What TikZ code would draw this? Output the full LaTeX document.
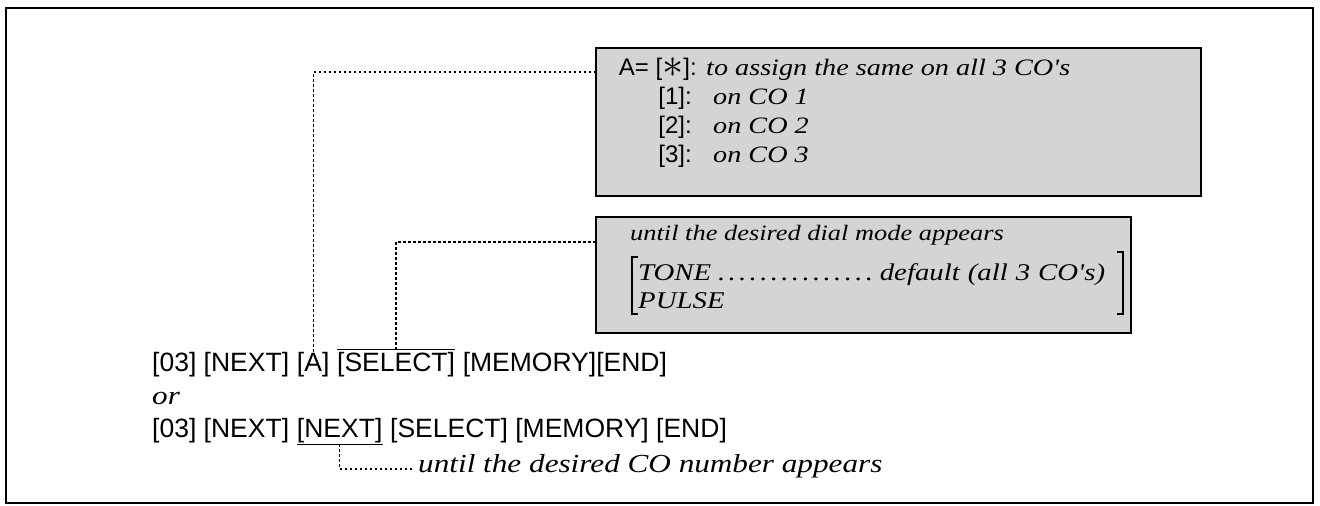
\documentclass[tikz,border=0pt]{standalone}
\usepackage{fontspec}
\setmainfont{Liberation Sans}
\newfontfamily\itf[FakeStretch=1.2]{Liberation Serif}
\usetikzlibrary{calc}
\newcommand{\bigast}{\raisebox{-0.12em}{\scalebox{1.7}{$\ast$}}}
\tikzset{
 rowtxt/.style={inner sep=0, anchor=base west, font=\fontsize{26.5}{30}\selectfont},
 boxtxt/.style={inner sep=0, anchor=base west, font=\fontsize{24}{28}\selectfont},
 boxtxtr/.style={inner sep=0, anchor=base east, font=\fontsize{24}{28}\selectfont},
 itxt/.style={inner sep=0, anchor=base west, font=\itf\itshape\fontsize{23.5}{28}\selectfont},
 notetxt/.style={inner sep=0, anchor=base west, font=\itf\itshape\fontsize{26}{30}\selectfont},
 dotline/.style={line width=1.3pt, dash pattern=on 2.4pt off 2.6pt},
 graybox/.style={draw, line width=1.6pt, fill=black!17, inner sep=0, anchor=north west},
 brk/.style={line width=1.3pt},
}
\begin{document}
\begin{tikzpicture}[x=1pt,y=-1pt]
\useasboundingbox (0,0) rectangle (1320,506);
\draw[line width=1.3pt] (6,8) rectangle (1313,503);

% box 1
\node[graybox, minimum width=605pt, minimum height=148pt] (b1) at (595,47) {};
\node[boxtxtr] (b1k1) at (697,75) {A= [\bigast]:};
\node[itxt] (b1t1) at (706,75) {to assign the same on all 3 CO's};
\node[boxtxtr] (b1k2) at (692,104) {[1]:};
\node[itxt] (b1t2) at (713,104) {on CO 1};
\node[boxtxtr] (b1k3) at (692,133) {[2]:};
\node[itxt] (b1t3) at (713,133) {on CO 2};
\node[boxtxtr] (b1k4) at (692,162) {[3]:};
\node[itxt] (b1t4) at (713,162) {on CO 3};

% box 2
\node[graybox, minimum width=535pt, minimum height=116pt] (b2) at (595,216) {};
\node[itxt, font=\itf\itshape\fontsize{22}{26}\selectfont] (b2t1) at (630,240) {until the desired dial mode appears};
\node[itxt, font=\itf\itshape\fontsize{24}{28}\selectfont, text width=467pt] (b2t2) at (638,280) {TONE\,\dotfill\,default (all 3 CO's)};
\node[itxt, font=\itf\itshape\fontsize{24}{28}\selectfont] (b2t3) at (638,308) {PULSE};
\draw[brk] (638,257) -- (632,257) -- (632,314) -- (638,314);
\draw[brk] (1117,252) -- (1123,252) -- (1123,314) -- (1117,314);

% row 1
\node[rowtxt] (r1a) at (152,371) {[03] [NEXT]};
\node[rowtxt] (r1b) at ($(r1a.base east)+(7.4,0)$) {[A]};
\node[rowtxt] (r1c) at ($(r1b.base east)+(7.4,0)$) {[SELECT]};
\node[rowtxt] (r1d) at ($(r1c.base east)+(7.4,0)$) {[MEMORY][END]};
\draw[line width=1pt] ($(r1c.north west)+(0,-2)$) -- ($(r1c.north east)+(0,-2)$);
\coordinate (selov) at ($(r1c.north)+(0,-2)$);

\node[notetxt] (or) at (152,404) {or};

% row 2
\node[rowtxt] (r2a) at (152,437) {[03] [NEXT]};
\node[rowtxt] (r2b) at ($(r2a.base east)+(7.4,0)$) {[NEXT]};
\node[rowtxt] (r2c) at ($(r2b.base east)+(7.4,0)$) {[SELECT] [MEMORY] [END]};
\draw[line width=1pt] ($(r2b.south west)+(0,1.5)$) -- ($(r2b.south east)+(0,1.5)$);
\coordinate (nxu) at ($(r2b.south)+(0,1.5)$);

\node[notetxt] (note) at (418,472) {until the desired CO number appears};

% connectors
\coordinate (b1in) at ($(b1.north west)+(0,25)$);
\coordinate (b2in) at ($(b2.north west)+(0,26)$);
\coordinate (notein) at ($(note.base west)+(-4,-3)$);
\draw[dotline] (r1b.north) |- (b1in);
\draw[dotline] (selov) |- (b2in);
\draw[dotline] (nxu) |- (notein);
\end{tikzpicture}
\end{document}
